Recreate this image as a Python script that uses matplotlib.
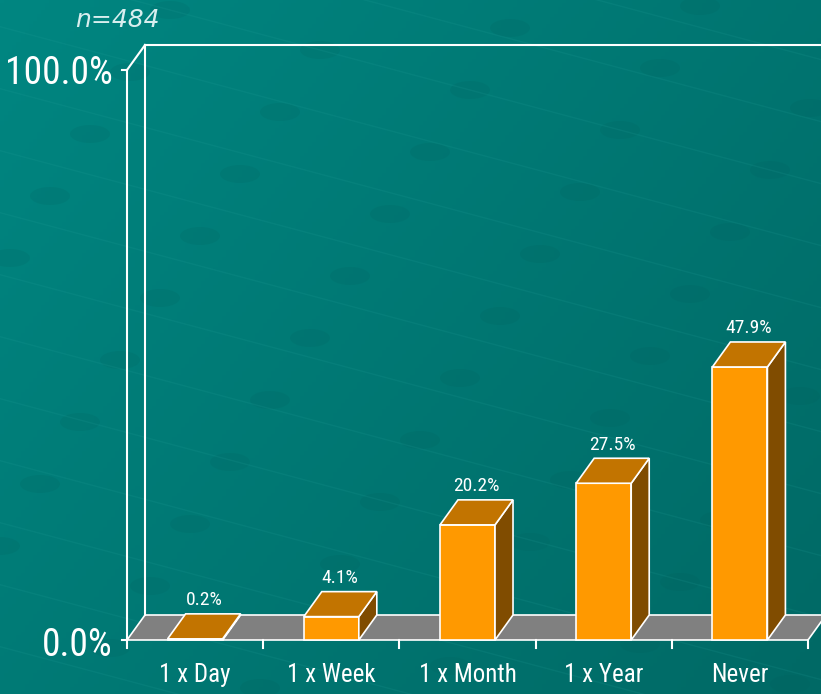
import numpy as np
import matplotlib
matplotlib.use("Agg")
from matplotlib import pyplot as plt
from matplotlib import font_manager
from matplotlib.patches import Polygon, Ellipse

# survey answers
categorias = ["1 x Day", "1 x Week", "1 x Month", "1 x Year", "Never"]
porcentajes = [0.2, 4.1, 20.2, 27.5, 47.9]
etiquetasEje = ["0.0%", "100.0%"]
textoMuestra = "n=484"

# pick a condensed face if there is one
nombresFuentes = {f.name for f in font_manager.fontManager.ttflist}
fuente = "DejaVu Sans"
for candidata in ["Liberation Sans Narrow", "Roboto Condensed", "Open Sans Condensed", "Liberation Sans"]:
    if candidata in nombresFuentes:
        fuente = candidata
        break

W, H = 821, 694
fig = plt.figure(figsize=(W / 100, H / 100), dpi=100)

# teal background with a faint pattern of dots
fondo = fig.add_axes([0, 0, 1, 1])
fondo.set_xlim(0, W)
fondo.set_ylim(H, 0)
fondo.axis("off")
gx, gy = np.meshgrid(np.linspace(0, 1, 200), np.linspace(0, 1, 200))
t = (gx * 0.6 + gy * 0.4)
c0 = np.array([0x00, 0x86, 0x81]) / 255
c1 = np.array([0x00, 0x69, 0x65]) / 255
img = c0[None, None, :] * (1 - t[..., None]) + c1[None, None, :] * t[..., None]
fondo.imshow(img, extent=[0, W, H, 0], aspect="auto", zorder=0)
for i in range(-3, 9):
    for j in range(-2, 14):
        px = 20 + 150 * i - 40 * j
        py = -30 + 40 * i + 62 * j
        if -40 < px < W + 40 and -40 < py < H + 40:
            fondo.add_patch(Ellipse((px, py), 40, 18, color="#005a57", alpha=0.13, lw=0, zorder=1))
for j in range(-6, 16):
    xs = np.array([-50, W + 50])
    fondo.plot(xs, -30 + 62 * j + (xs - 20) * 40 / 150, color="#2aa6a0", lw=1, alpha=0.14, zorder=1)

fondo.text(117, 20, textoMuestra, ha="center", va="center", fontsize=18, style="italic",
           fontweight="light", color="#d8eeee", family="DejaVu Sans")

# chart area: x in category units, y in percent
ax = fig.add_axes([127 / W, 54 / H, 681 / W, 570 / H])
ax.set_xlim(0, len(categorias))
ax.set_ylim(0, 100)
ax.axis("off")
ax.patch.set_alpha(0)

DX = 18 / 136.2
DY = 25 / 5.7
n = len(categorias)
borde = dict(edgecolor="white", linewidth=1.2, joinstyle="miter", clip_on=False)

# walls and floor
ax.plot([DX, DX], [DY, 100 + DY], color="white", lw=1.5, clip_on=False)
ax.plot([DX, n + 0.2], [100 + DY, 100 + DY], color="white", lw=1.5, clip_on=False)
ax.plot([0, 0], [0, 100], color="white", lw=1.5, clip_on=False)
ax.plot([0, DX], [100, 100 + DY], color="white", lw=1.5, clip_on=False)
ax.add_patch(Polygon([(0, 0), (n, 0), (n + DX, DY), (DX, DY)], facecolor="#808080", **borde))
for yv in [0, 100]:
    ax.plot([-5 / 136.2, 0], [yv, yv], color="white", lw=1.5, clip_on=False)
for k in range(n + 1):
    ax.plot([k, k], [0, -1.4], color="white", lw=1.5, clip_on=False)

ancho = 0.404
for k, (cat, v) in enumerate(zip(categorias, porcentajes)):
    x0 = k + 0.5 - ancho / 2
    x1 = k + 0.5 + ancho / 2
    ax.add_patch(Polygon([(x0, 0), (x1, 0), (x1, v), (x0, v)], facecolor="#ff9900", zorder=3, **borde))
    ax.add_patch(Polygon([(x1, 0), (x1 + DX, DY), (x1 + DX, v + DY), (x1, v)], facecolor="#804c00", zorder=3, **borde))
    ax.add_patch(Polygon([(x0, v), (x1, v), (x1 + DX, v + DY), (x0 + DX, v + DY)], facecolor="#c27400", zorder=3, **borde))
    ax.text(k + 0.5 + DX / 2, v + DY + 2.4, f"{v:.1f}%", ha="center", va="center",
            fontsize=14, color="white", family=fuente, zorder=4)
    ax.text(k + 0.5, -6.2, cat, ha="center", va="center", fontsize=18,
            color="white", family=fuente)

ax.text(-0.103, -0.9, etiquetasEje[0], ha="right", va="center", fontsize=27,
        color="white", family=fuente)
ax.text(-0.103, 99.3, etiquetasEje[1], ha="right", va="center", fontsize=27,
        color="white", family=fuente)

plt.savefig("out.png", dpi=100)
plt.close()
